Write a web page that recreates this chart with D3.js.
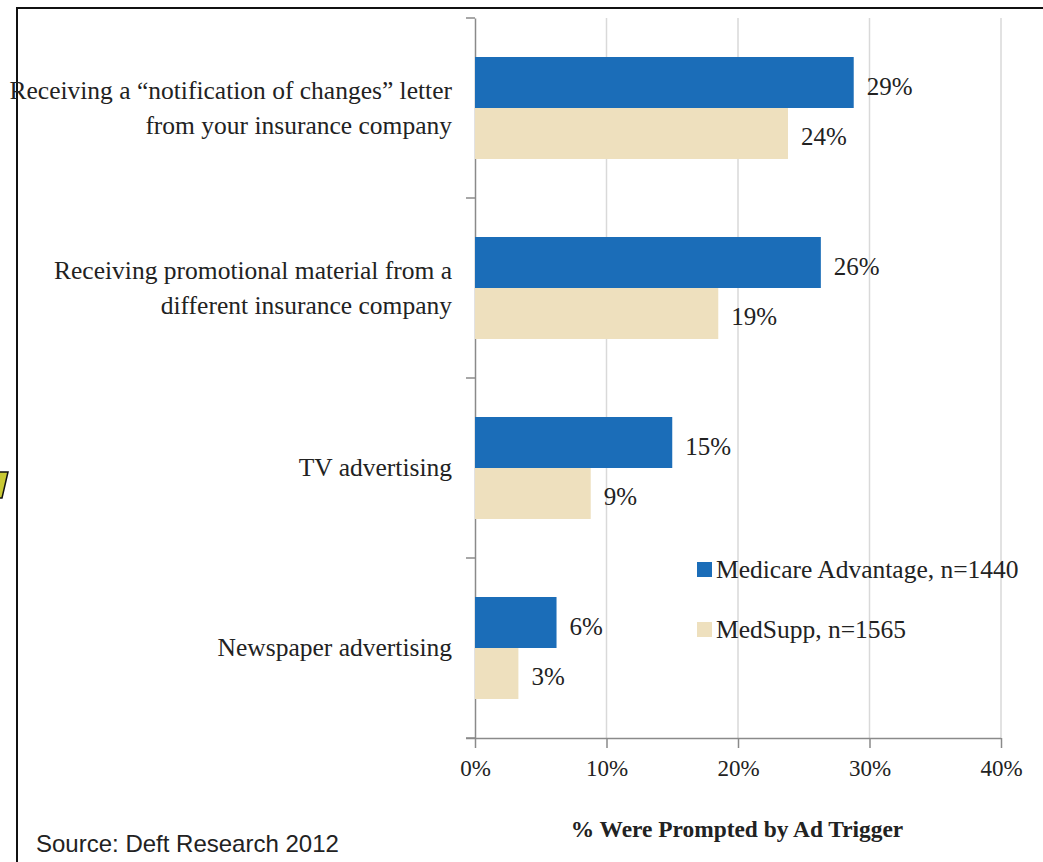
<!DOCTYPE html>
<html>
<head>
<meta charset="utf-8">
<script src="https://cdn.jsdelivr.net/npm/d3@7"></script>
<style>
  body { margin: 0; background: #fff; }
  .serif { font-family: "Liberation Serif", "DejaVu Serif", serif; fill: #222; }
</style>
</head>
<body>
<div class="chart_div"></div>
<script>
var categories = [
	["Receiving a \u201cnotification of changes\u201d letter", "from your insurance company"],
	["Receiving promotional material from a", "different insurance company"],
	["TV advertising"],
	["Newspaper advertising"]
];
var series = ["Medicare Advantage, n=1440", "MedSupp, n=1565"];
var advantage = [28.8, 26.3, 15.0, 6.2];
var medsupp = [23.8, 18.5, 8.8, 3.3];
var xTicks = [0, 10, 20, 30, 40];
var colors = ["#1b6db8", "#eee0be"];

var svg = d3.select(".chart_div").append("svg")
	.attr("width", 1043)
	.attr("height", 862);

// frame of the slide
svg.append("path")
	.attr("d", "M17,862 L17,8 L1043,8")
	.attr("fill", "none")
	.attr("stroke", "#111")
	.attr("stroke-width", 2);

// bit of the slide number sticking in at the left
svg.append("path")
	.attr("d", "M-2,472 L8,472 L2,498 L-2,498 Z")
	.attr("fill", "#c9c934")
	.attr("stroke", "#111")
	.attr("stroke-width", 1.5);

var x = d3.scaleLinear().domain([0, 40]).range([475, 1001]);
var y = d3.scaleBand().domain(d3.range(categories.length)).range([18, 738]);
var ySub = d3.scaleBand().domain([0, 1]).range([0, y.bandwidth()]).paddingOuter(0.765);

// gridlines
svg.selectAll(".grid")
	.data(xTicks.slice(1))
	.enter()
	.append("line")
	.attr("x1", function(d){ return x(d); })
	.attr("x2", function(d){ return x(d); })
	.attr("y1", 18)
	.attr("y2", 738)
	.attr("stroke", "#d9d9d9")
	.attr("stroke-width", 1.5);

// x axis
var xAxis = svg.append("g")
	.attr("transform", "translate(0,738)")
	.call(d3.axisBottom(x).tickValues(xTicks).tickSize(10).tickSizeOuter(0)
		.tickFormat(function(d){ return d + "%"; }));
xAxis.select(".domain").attr("stroke", "#8a8a8a").attr("stroke-width", 1.5)
	.attr("d", "M466,0.5H" + x(40));
xAxis.selectAll(".tick line").attr("stroke", "#8a8a8a").attr("stroke-width", 1.5);
xAxis.selectAll(".tick text")
	.attr("class", "serif")
	.attr("y", 22)
	.style("font-size", "23px");

// y axis
var yAxis = svg.append("g")
	.attr("transform", "translate(475,0)")
	.call(d3.axisLeft(y).tickValues([]).tickSizeOuter(0));
yAxis.select(".domain").attr("stroke", "#8a8a8a").attr("stroke-width", 1.5);
yAxis.selectAll(".bnd")
	.data(d3.range(categories.length + 1))
	.enter()
	.append("line")
	.attr("x1", -9)
	.attr("x2", 0)
	.attr("y1", function(d){ return 18 + d * y.step(); })
	.attr("y2", function(d){ return 18 + d * y.step(); })
	.attr("stroke", "#8a8a8a")
	.attr("stroke-width", 1.5);

// bars
var values = [advantage, medsupp];
values.forEach(function(vals, s){
	svg.selectAll(".bar" + s)
		.data(vals)
		.enter()
		.append("rect")
		.attr("class", "bar" + s)
		.attr("x", x(0))
		.attr("y", function(d, i){ return y(i) + ySub(s); })
		.attr("width", function(d){ return x(d) - x(0); })
		.attr("height", ySub.bandwidth())
		.attr("fill", colors[s]);

	svg.selectAll(".lbl" + s)
		.data(vals)
		.enter()
		.append("text")
		.attr("class", "serif")
		.attr("x", function(d){ return x(d) + 13; })
		.attr("y", function(d, i){ return y(i) + ySub(s) + ySub.bandwidth() / 2 + 12; })
		.style("font-size", "25px")
		.text(function(d){ return Math.round(d) + "%"; });
});

// category labels
categories.forEach(function(lines, i){
	var mid = y(i) + y.bandwidth() / 2;
	svg.append("text")
		.attr("class", "serif")
		.attr("text-anchor", "end")
		.attr("x", 452)
		.attr("y", mid - (lines.length - 1) * 17 + 8)
		.style("font-size", "25.5px")
		.selectAll("tspan")
		.data(lines)
		.enter()
		.append("tspan")
		.attr("x", 452)
		.attr("dy", function(d, j){ return j == 0 ? 0 : 35; })
		.text(function(d){ return d; });
});

// legend
var legend = svg.selectAll(".legend")
	.data(series)
	.enter()
	.append("g")
	.attr("transform", function(d, i){ return "translate(697," + (562 + i * 60) + ")"; });
legend.append("rect")
	.attr("width", 15)
	.attr("height", 15)
	.attr("fill", function(d, i){ return colors[i]; });
legend.append("text")
	.attr("class", "serif")
	.attr("x", 19)
	.attr("y", 16)
	.style("font-size", "25.5px")
	.text(function(d){ return d; });

// axis title
svg.append("text")
	.attr("class", "serif")
	.attr("text-anchor", "middle")
	.attr("x", 737)
	.attr("y", 837)
	.style("font-size", "23.4px")
	.style("font-weight", "bold")
	.text("% Were Prompted by Ad Trigger");

// source
svg.append("text")
	.attr("x", 36)
	.attr("y", 852)
	.style("font-family", "Liberation Sans, Arial, sans-serif")
	.style("font-size", "24px")
	.style("fill", "#222")
	.text("Source: Deft Research 2012");
</script>
</body>
</html>
